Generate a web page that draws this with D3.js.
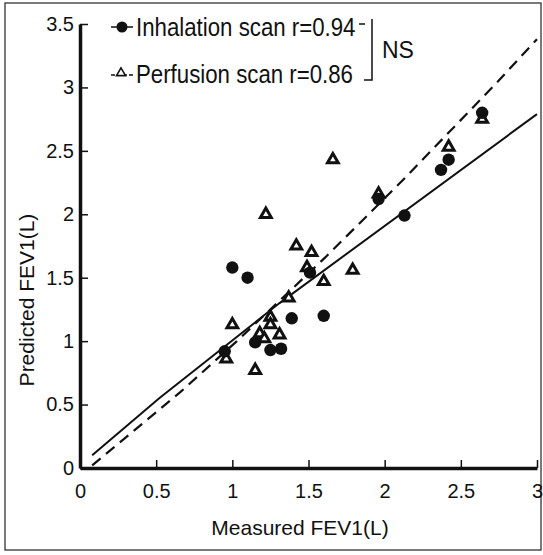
<!DOCTYPE html>
<html>
<head>
<meta charset="utf-8">
<script src="https://cdn.jsdelivr.net/npm/d3@7"></script>
<style>
  body { margin: 0; background: #fff; }
  text { font-family: "Liberation Sans", Arial, sans-serif; fill: #111; }
</style>
</head>
<body>
<script>
// inhalation scan (filled circles): measured, predicted
const inhalMeasured  = [0.95, 1.00, 1.10, 1.15, 1.25, 1.32, 1.39, 1.51, 1.60, 1.96, 2.13, 2.37, 2.42, 2.64];
const inhalPredicted = [0.92, 1.58, 1.50, 0.99, 0.93, 0.94, 1.18, 1.54, 1.20, 2.12, 1.99, 2.35, 2.43, 2.80];
// perfusion scan (open triangles)
const perfMeasured  = [0.96, 1.00, 1.15, 1.18, 1.21, 1.25, 1.25, 1.31, 1.22, 1.37, 1.42, 1.49, 1.52, 1.60, 1.66, 1.79, 1.96, 2.42, 2.64];
const perfPredicted = [0.86, 1.13, 0.77, 1.06, 1.02, 1.19, 1.13, 1.05, 2.00, 1.34, 1.75, 1.58, 1.70, 1.47, 2.43, 1.56, 2.16, 2.53, 2.75];
// regression lines (data units)
const inhalFit = [[0.08, 0.10], [0.52, 0.55], [1.31, 1.30], [3.0, 2.79]];
const perfFit  = [[0.08, 0.02], [0.66, 0.60], [1.03, 1.00], [1.61, 1.66], [2.12, 2.27], [2.73, 3.03], [3.0, 3.38]];
const xTicks = [0, 0.5, 1, 1.5, 2, 2.5, 3];
const yTicks = [0, 0.5, 1, 1.5, 2, 2.5, 3, 3.5];

const W = 543, H = 555;
const svg = d3.select("body").append("svg")
    .attr("width", W)
    .attr("height", H);

// outer frame
svg.append("rect")
    .attr("x", 5).attr("y", 3)
    .attr("width", 536).attr("height", 547)
    .attr("fill", "none").attr("stroke", "#333").attr("stroke-width", 1.3);

const x = d3.scaleLinear().domain([0, 3]).range([80, 537]);
const y = d3.scaleLinear().domain([0, 3.5]).range([468, 24]);

const fmt = d => String(d);

// axes, ticks pointing inward
const gx = svg.append("g")
    .attr("transform", "translate(0," + y(0) + ")")
    .call(d3.axisBottom(x).tickValues(xTicks).tickFormat(fmt).tickSizeInner(-8).tickSizeOuter(0).tickPadding(12));
const gy = svg.append("g")
    .attr("transform", "translate(" + x(0) + ",0)")
    .call(d3.axisLeft(y).tickValues(yTicks).tickFormat(fmt).tickSizeInner(-8).tickSizeOuter(0).tickPadding(6));

[gx, gy].forEach(g => {
  g.select(".domain").attr("stroke", "#111").attr("stroke-width", 3.5);
  g.selectAll(".tick line").attr("stroke", "#111").attr("stroke-width", 1.5);
  g.selectAll(".tick text").attr("font-size", 20).attr("fill", "#111")
    .attr("font-family", "'Liberation Sans', Arial, sans-serif");
});
gx.selectAll(".tick text").attr("dy", "0.9em");

// axis titles
svg.append("text")
    .attr("x", 300).attr("y", 535)
    .attr("text-anchor", "middle")
    .attr("font-size", 21)
    .text("Measured FEV1(L)");
svg.append("text")
    .attr("transform", "translate(34,300) rotate(-90)")
    .attr("text-anchor", "middle")
    .attr("font-size", 21)
    .text("Predicted FEV1(L)");

// regression lines
const line = d3.line().x(d => x(d[0])).y(d => y(d[1]));
svg.append("path")
    .attr("d", line(inhalFit))
    .attr("fill", "none").attr("stroke", "#111").attr("stroke-width", 2);
svg.append("path")
    .attr("d", line(perfFit))
    .attr("fill", "none").attr("stroke", "#111").attr("stroke-width", 2.2)
    .attr("stroke-dasharray", "11,7");

// points
const tri = d3.symbol().type(d3.symbolTriangle).size(50);
svg.append("g").selectAll("path")
    .data(d3.range(perfMeasured.length))
    .join("path")
    .attr("transform", i => "translate(" + x(perfMeasured[i]) + "," + y(perfPredicted[i]) + ")")
    .attr("d", tri)
    .attr("fill", "#fff").attr("stroke", "#111").attr("stroke-width", 3);

svg.append("g").selectAll("circle")
    .data(d3.range(inhalMeasured.length))
    .join("circle")
    .attr("cx", i => x(inhalMeasured[i]))
    .attr("cy", i => y(inhalPredicted[i]))
    .attr("r", 6.2)
    .attr("fill", "#111");

// legend
const lg = svg.append("g");
lg.append("line").attr("x1", 111).attr("x2", 133).attr("y1", 27).attr("y2", 27)
    .attr("stroke", "#111").attr("stroke-width", 1.5);
lg.append("circle").attr("cx", 122).attr("cy", 27).attr("r", 5.5).attr("fill", "#111");
lg.append("text").attr("transform", "translate(136,36) scale(0.89,1)").attr("font-size", 25)
    .text("Inhalation scan  r=0.94");
lg.append("line").attr("x1", 359).attr("x2", 365).attr("y1", 24).attr("y2", 24)
    .attr("stroke", "#111").attr("stroke-width", 1.5);

lg.append("line").attr("x1", 111).attr("x2", 133).attr("y1", 75).attr("y2", 75)
    .attr("stroke", "#111").attr("stroke-width", 1.5).attr("stroke-dasharray", "4,2");
lg.append("path").attr("transform", "translate(121,73)")
    .attr("d", d3.symbol().type(d3.symbolTriangle).size(35))
    .attr("fill", "#fff").attr("stroke", "#111").attr("stroke-width", 1.6);
lg.append("text").attr("transform", "translate(136,83) scale(0.89,1)").attr("font-size", 25)
    .text("Perfusion scan  r=0.86");

// bracket for NS
lg.append("path")
    .attr("d", "M364,80H372V19")
    .attr("fill", "none").attr("stroke", "#111").attr("stroke-width", 1.5);
lg.append("text").attr("x", 382).attr("y", 58).attr("font-size", 23)
    .text("NS");
</script>
</body>
</html>
